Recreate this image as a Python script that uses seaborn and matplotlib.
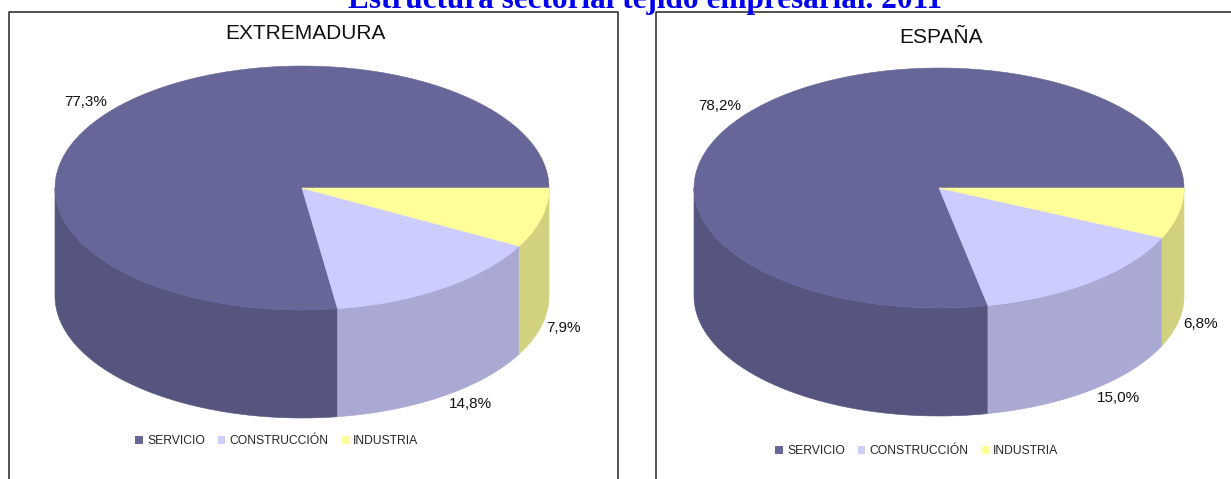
import numpy as np
import matplotlib
matplotlib.use("Agg")
import matplotlib.pyplot as plt
import seaborn as sns
from matplotlib.patches import Polygon, Patch

# ==============================
# Data
# ==============================
sectors = ["SERVICIO", "CONSTRUCCIÓN", "INDUSTRIA"]
extremadura = [77.3, 14.8, 7.9]
espana = [78.2, 15.0, 6.8]
panel_titles = ["EXTREMADURA", "ESPAÑA"]
main_title = "Estructura sectorial tejido empresarial. 2011"

top_colors = ["#666699", "#CCCCFF", "#FFFF99"]
side_colors = ["#555580", "#A9A9D3", "#D2D27E"]

sns.set_theme(style="white")
plt.rcParams["font.family"] = ["Liberation Sans", "DejaVu Sans"]

fig = plt.figure(figsize=(12.31, 4.79), dpi=100)
ax = fig.add_axes([0, 0, 1, 1])
ax.set_xlim(0, 1231)
ax.set_ylim(479, 0)
ax.axis("off")


def arc(cx, cy, rx, ry, t1, t2, n=120):
    t = np.radians(np.linspace(t1, t2, n))
    return np.column_stack([cx + rx * np.cos(t), cy - ry * np.sin(t)])


def pie3d(ax, values, cx, cy, rx, ry, depth):
    vals = np.array(values, dtype=float)
    edges = np.concatenate([[0], np.cumsum(vals) / vals.sum() * 360])
    # front walls first
    for i in range(len(vals)):
        a1, a2 = max(edges[i], 180), min(edges[i + 1], 360)
        if a2 > a1:
            top = arc(cx, cy, rx, ry, a1, a2)
            bot = top[::-1] + [0, depth]
            ax.add_patch(Polygon(np.vstack([top, bot]), closed=True,
                                 facecolor=side_colors[i], edgecolor=side_colors[i], lw=0.4))
    # top faces
    for i in range(len(vals)):
        pts = np.vstack([[cx, cy], arc(cx, cy, rx, ry, edges[i], edges[i + 1])])
        ax.add_patch(Polygon(pts, closed=True, facecolor=top_colors[i],
                             edgecolor=top_colors[i], lw=0.4))
    # percentage labels
    for i in range(len(vals)):
        tm = np.radians((edges[i] + edges[i + 1]) / 2)
        x = cx + rx * np.cos(tm)
        y = cy - ry * np.sin(tm)
        if np.sin(tm) < 0:
            y += depth
        y -= 10 * np.sin(tm)
        if np.cos(tm) < 0:
            ha, x = "right", x - 8
        else:
            ha, x = "left", x + 5
        ax.text(x, y, f"{vals[i]:.1f}".replace(".", ",") + "%", ha=ha, va="center",
                fontsize=11, color="#111111")


# panel frames (bottom/right run off the picture)
ax.plot([9, 9, 618, 618], [479, 12, 12, 479], color="#222222", lw=1.1)
ax.plot([656, 656, 1231], [479, 12, 12], color="#222222", lw=1.1)

pie3d(ax, extremadura, 302, 188, 247, 122, 108)
pie3d(ax, espana, 939, 188, 245, 120, 108)

ax.text(305, 33, panel_titles[0], ha="center", va="center", fontsize=15, color="#111111")
ax.text(941, 37, panel_titles[1], ha="center", va="center", fontsize=15, color="#111111")

ax.text(645, 8, main_title, ha="center", va="baseline", fontsize=22.5,
        fontweight="bold", color="#0000EE", family=["Liberation Serif", "DejaVu Serif"])

handles = [Patch(facecolor=c, edgecolor="none") for c in top_colors]
leg_kw = dict(ncol=3, loc="center", frameon=False, fontsize=8.7, handlelength=0.6,
              handleheight=0.6, handletextpad=0.35, columnspacing=1.1,
              bbox_transform=ax.transData)
leg1 = ax.legend(handles, sectors, bbox_to_anchor=(277, 441), **leg_kw)
ax.add_artist(leg1)
ax.legend(handles, sectors, bbox_to_anchor=(917, 451), **leg_kw)

fig.savefig("out.png", dpi=100, facecolor="white")
